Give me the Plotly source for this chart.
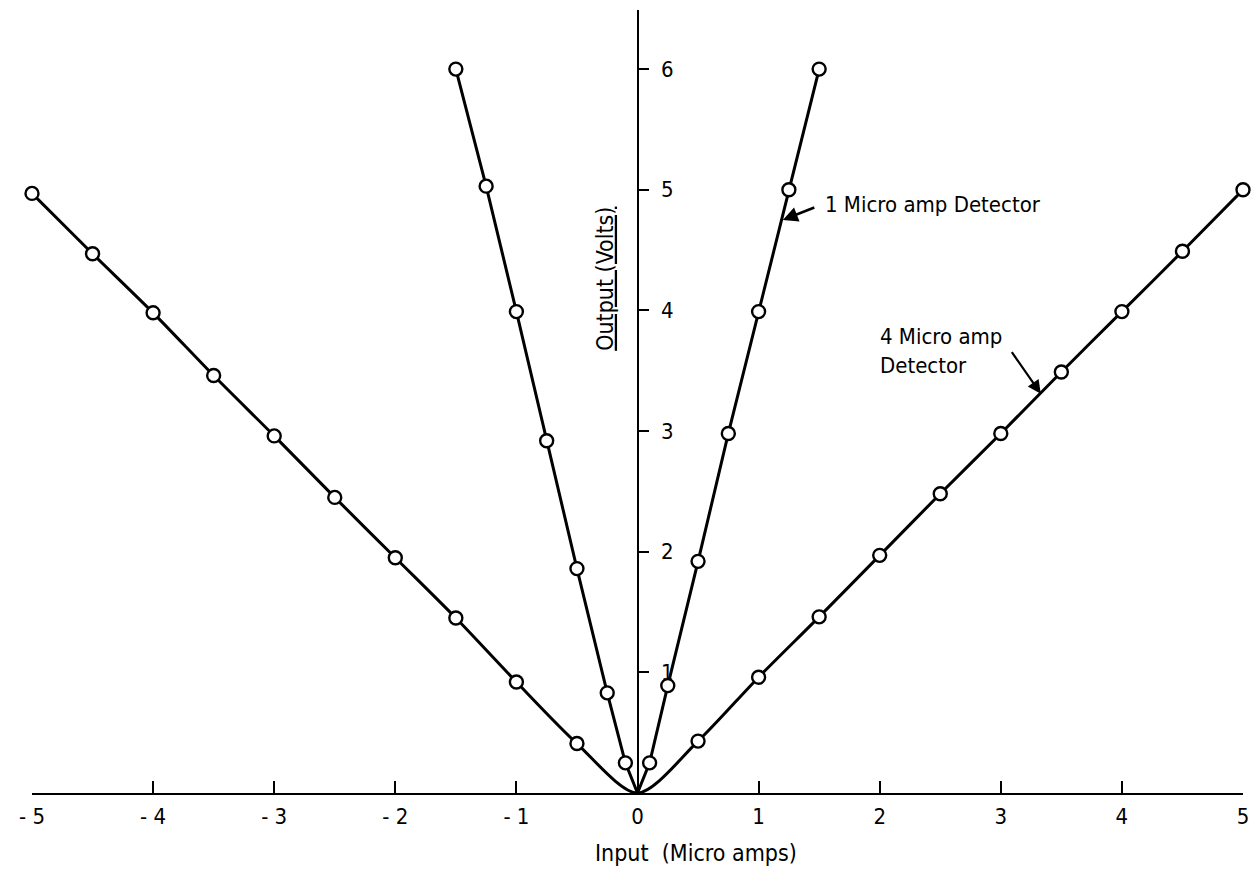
import plotly.graph_objects as go

# 4 micro amp detector
x_4ua = [-5, -4.5, -4, -3.5, -3, -2.5, -2, -1.5, -1, -0.5, 0, 0.5, 1, 1.5, 2, 2.5, 3, 3.5, 4, 4.5, 5]
y_4ua = [4.97, 4.47, 3.98, 3.46, 2.96, 2.45, 1.95, 1.45, 0.92, 0.41, 0, 0.43, 0.96, 1.46, 1.97, 2.48, 2.98, 3.49, 3.99, 4.49, 5.0]

# 1 micro amp detector
x_1ua = [-1.5, -1.25, -1, -0.75, -0.5, -0.25, -0.1, 0, 0.1, 0.25, 0.5, 0.75, 1, 1.25, 1.5]
y_1ua = [6.0, 5.03, 3.99, 2.92, 1.86, 0.83, 0.25, 0, 0.25, 0.89, 1.92, 2.98, 3.99, 5.0, 6.0]

x_ticks = [-5, -4, -3, -2, -1, 0, 1, 2, 3, 4, 5]
x_ticktext = ["- 5", "- 4", "- 3", "- 2", "- 1", "0", "1", "2", "3", "4", "5"]
y_ticks = [1, 2, 3, 4, 5, 6]

FONT = "DejaVu Sans Condensed, Liberation Sans Narrow, Arial Narrow, sans-serif"


def markers_only(xs, ys):
    pts = [(x, y) for x, y in zip(xs, ys) if x != 0]
    return [p[0] for p in pts], [p[1] for p in pts]


fig = go.Figure()

fig.add_trace(go.Scatter(
    x=x_4ua, y=y_4ua, mode="lines",
    line=dict(color="black", width=3, shape="spline", smoothing=0.8),
    cliponaxis=False, hoverinfo="skip", showlegend=False))
fig.add_trace(go.Scatter(
    x=x_1ua, y=y_1ua, mode="lines",
    line=dict(color="black", width=3, shape="linear"),
    cliponaxis=False, hoverinfo="skip", showlegend=False))

for xs, ys in [(x_4ua, y_4ua), (x_1ua, y_1ua)]:
    mx, my = markers_only(xs, ys)
    fig.add_trace(go.Scatter(
        x=mx, y=my, mode="markers",
        marker=dict(symbol="circle", size=13, color="white",
                    line=dict(color="black", width=2.4)),
        cliponaxis=False, showlegend=False))

fig.update_layout(
    width=1252, height=861,
    margin=dict(l=24, r=17, t=2, b=76),
    paper_bgcolor="white", plot_bgcolor="white",
    font=dict(family=FONT, size=22, color="black"),
    xaxis=dict(
        range=[-5, 5], tickmode="array", tickvals=x_ticks, ticktext=x_ticktext,
        showgrid=False, zeroline=False, showline=True, linecolor="black", linewidth=2,
        ticks="inside", ticklen=12, tickwidth=2, tickcolor="black",
        ticklabelstandoff=3,
        tickfont=dict(family=FONT, size=22, color="black"),
    ),
    yaxis=dict(
        range=[0, 6.49], tickmode="array", tickvals=y_ticks,
        anchor="free", position=0.5, side="right",
        showgrid=False, zeroline=False, showline=True, linecolor="black", linewidth=2,
        ticks="outside", ticklen=10, tickwidth=2, tickcolor="black",
        ticklabelstandoff=8,
        tickfont=dict(family=FONT, size=22, color="black"),
    ),
)

# X axis title (off-centre, as in the original)
fig.add_annotation(
    x=0.48, y=-0.0766, xref="x", yref="paper", text="Input  (Micro amps)",
    showarrow=False, xanchor="center", yanchor="middle",
    font=dict(family=FONT, size=23, color="black"))

# Y axis title, underlined, left of the axis
fig.add_annotation(
    x=-0.27, y=4.26, xref="x", yref="y", text="<u>Output (Volts)</u>",
    textangle=-90, showarrow=False, font=dict(family=FONT, size=23, color="black"))

# 1 micro amp label + arrow
fig.add_annotation(
    x=1.2, y=4.75, xref="x", yref="y", ax=33, ay=-13, text="",
    showarrow=True, arrowhead=2, arrowsize=1.2, arrowwidth=2.5, arrowcolor="black")
fig.add_annotation(
    x=1.53, y=4.875, xref="x", yref="y", xanchor="left", yanchor="middle",
    text="1 Micro amp Detector", showarrow=False,
    font=dict(family=FONT, size=22, color="black"))

# 4 micro amp label + arrow
fig.add_annotation(
    x=3.33, y=3.31, xref="x", yref="y", ax=-30, ay=-43, text="",
    showarrow=True, arrowhead=2, arrowsize=1.2, arrowwidth=2.2, arrowcolor="black")
fig.add_annotation(
    x=1.99, y=3.665, xref="x", yref="y", xanchor="left", yanchor="middle", align="left",
    text="4 Micro amp<br>Detector", showarrow=False,
    font=dict(family=FONT, size=22, color="black"))

fig.write_html("out.html")
